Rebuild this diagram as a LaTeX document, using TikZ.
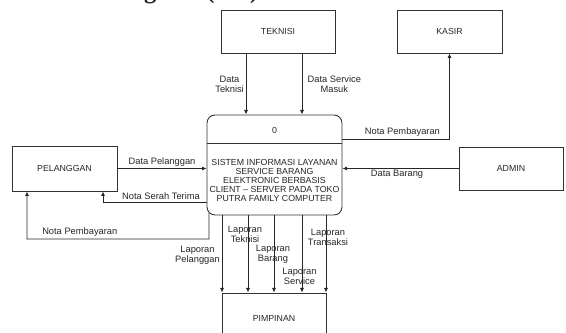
\documentclass[tikz,border=0pt]{standalone}
\usepackage{fontspec}
\setmainfont{Liberation Sans}
\newfontfamily\titlefont{Liberation Serif}
\usetikzlibrary{arrows.meta, positioning, calc}

\begin{document}
\begin{tikzpicture}[
    x=0.02cm, y=-0.02cm,
    every node/.style={font=\fontsize{5}{5.25}\selectfont, text=black!85},
    entity/.style={rectangle, draw=black!80, line width=0.5pt, minimum height=0.86cm,
                   align=center, fill=white},
    process/.style={rectangle, rounded corners=0.16cm, draw=black!80, line width=0.5pt,
                    minimum width=2.7cm, minimum height=2cm},
    lbl/.style={font=\fontsize{5.3}{5.7}\selectfont, align=center, inner sep=1pt},
    flow/.style={-{Latex[length=2.6pt, width=2.3pt]}, line width=0.5pt, draw=black!85},
    link/.style={line width=0.5pt, draw=black!80}
]

% Frame of the picture
\useasboundingbox (0,0) rectangle (566,333);
\clip (0,0) rectangle (566,333);

% Title, cut off at the top edge
\node[anchor=base west, inner sep=0pt, font=\titlefont\bfseries\fontsize{14}{14}\selectfont]
    (judul) at (107,-1) {Diagram (CD)};

% External entities
\node[entity, minimum width=2.28cm] (teknisi) at (278,31.5) {TEKNISI};
\node[entity, minimum width=2.1cm] (kasir) at (449.5,31.5) {KASIR};
\node[entity, minimum width=2.1cm, minimum height=0.9cm] (pelanggan) at (64.5,168.5) {PELANGGAN};
\node[entity, minimum width=2.08cm] (admin) at (511,168.5) {ADMIN};
\node[entity, minimum width=2.08cm, minimum height=1cm] (pimpinan) at (274,318) {PIMPINAN};

% Process 0
\node[process] (proc) at (274.5,165) {};
\coordinate (div) at (0,143);
\draw[link] (proc.west |- div) -- (proc.east |- div);
\node (pnum) at (274.5,130) {0};
\node[align=center] (pname) at (274.5,180.5)
    {SISTEM INFORMASI LAYANAN\\SERVICE BARANG\\ELEKTRONIC BERBASIS\\CLIENT -- SERVER PADA TOKO\\PUTRA FAMILY COMPUTER};

% Teknisi -> process
\draw[flow] ([xshift=-0.64cm]teknisi.south) coordinate (dt) -- (dt |- proc.north)
    node[lbl, midway, left] {Data\\Teknisi};
\draw[flow] ([xshift=0.48cm]teknisi.south) coordinate (dsm) -- (dsm |- proc.north)
    node[lbl, midway, right, xshift=2pt] {Data Service\\Masuk};

% Process -> Kasir
\draw[flow] ([yshift=0.52cm]proc.east) -| (kasir.south)
    node[lbl, pos=0.28, above] {Nota Pembayaran};

% Admin -> process
\draw[flow] (admin.west) -- (admin.west -| proc.east)
    node[lbl, pos=0.53, below, inner sep=0.5pt] {Data Barang};

% Pelanggan <-> process
\draw[flow] (pelanggan.east) -- (pelanggan.east -| proc.west)
    node[lbl, midway, above] {Data Pelanggan};
\draw[flow] ([yshift=-0.74cm]proc.west) -| ([xshift=0.77cm]pelanggan.south)
    node[lbl, pos=0.22, above] {Nota Serah Terima};
\coordinate (npb) at (209,239);
\draw[flow] ([xshift=-1.31cm, yshift=0.05cm]proc.south) -- (npb) -| ([xshift=-0.75cm]pelanggan.south)
    node[lbl, pos=0.355, above] {Nota Pembayaran};

% Process -> Pimpinan
\foreach \dx/\i in {-1.04/1, -0.52/2, 0/3, 0.56/4, 1.04/5} {
    \path ([xshift=\dx cm]pimpinan.north) coordinate (lap\i);
    \draw[flow] (lap\i |- proc.south) -- (lap\i);
}
\node[lbl] (lpel) at (197.5,255) {Laporan\\Pelanggan};
\node[lbl] (ltek) at (245,234) {Laporan\\Teknisi};
\node[lbl] (lbar) at (273,254) {Laporan\\Barang};
\node[lbl] (lser) at (299.5,276) {Laporan\\Service};
\node[lbl] (ltra) at (328,237.5) {Laporan\\Transaksi};

\end{tikzpicture}
\end{document}
